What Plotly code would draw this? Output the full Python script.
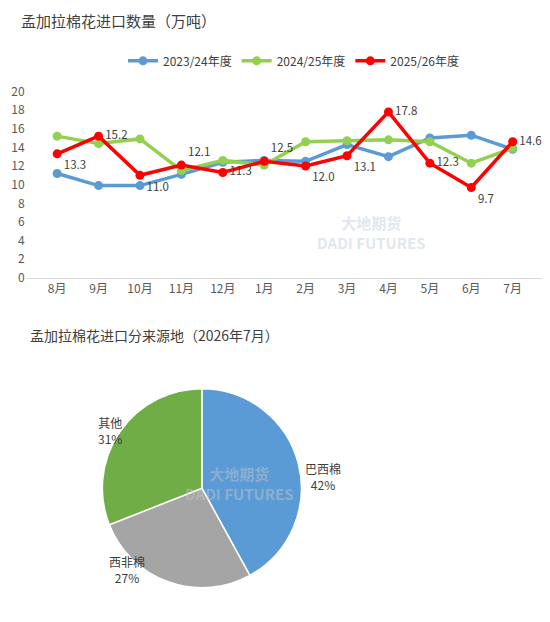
import plotly.graph_objects as go

months = ["8月", "9月", "10月", "11月", "12月", "1月", "2月", "3月", "4月", "5月", "6月", "7月"]
y2324 = [11.2, 9.9, 9.9, 11.1, 12.4, 12.6, 12.5, 14.3, 13.0, 15.0, 15.3, 13.8]
y2425 = [15.2, 14.4, 14.9, 11.5, 12.6, 12.1, 14.6, 14.7, 14.8, 14.6, 12.3, 13.9]
y2526 = [13.3, 15.2, 11.0, 12.1, 11.3, 12.5, 12.0, 13.1, 17.8, 12.3, 9.7, 14.6]
red_pos = ["bottom right", "middle right", "bottom right", "top right", "middle right", "top right",
           "bottom right", "bottom right", "middle right", "middle right", "bottom right", "middle right"]

pie_labels = ["巴西棉", "西非棉", "其他"]
pie_vals = [42, 27, 31]
pie_colors = ["#5B9BD5", "#A5A5A5", "#70AD47"]

F = "Microsoft YaHei, Noto Sans CJK SC, sans-serif"
fig = go.Figure()
for name, ys, col in [("2023/24年度", y2324, "#5B9BD5"), ("2024/25年度", y2425, "#92D050")]:
    fig.add_trace(go.Scatter(x=months, y=ys, name=name, mode="lines+markers",
                             line=dict(color=col, width=3.5), marker=dict(size=9, color=col)))
fig.add_trace(go.Scatter(x=months, y=y2526, name="2025/26年度", mode="lines+markers+text",
                         line=dict(color="#FF0000", width=3.5), marker=dict(size=9, color="#FF0000"),
                         text=[f"{v:.1f}" for v in y2526], textposition=red_pos, cliponaxis=False,
                         textfont=dict(size=11.5, color="#404040")))

fig.add_trace(go.Pie(labels=pie_labels, values=pie_vals, sort=False, direction="clockwise",
                     rotation=0, marker=dict(colors=pie_colors, line=dict(color="white", width=1.5)),
                     textinfo="none", showlegend=False, hoverinfo="label+percent",
                     domain=dict(x=[0.168, 0.537], y=[0.068, 0.388])))

fig.update_layout(
    width=550, height=622, margin=dict(l=0, r=0, t=0, b=0, autoexpand=False),
    paper_bgcolor="white", plot_bgcolor="white", font=dict(family=F, color="#595959", size=12),
    xaxis=dict(domain=[0.032, 0.975], showline=True, linecolor="#D9D9D9", ticks="", tickfont=dict(size=12)),
    yaxis=dict(domain=[0.566, 0.866], range=[0, 20], dtick=2, showgrid=False, zeroline=False,
               tickfont=dict(size=12)),
    legend=dict(orientation="h", x=0.52, xanchor="center", y=0.915, yanchor="middle",
                font=dict(size=12, color="#404040")),
    annotations=[
        dict(text="孟加拉棉花进口数量（万吨）", x=0.02, y=1.0, xref="paper", yref="paper",
             xanchor="left", yanchor="top", showarrow=False, font=dict(size=15, color="#404040")),
        dict(text="孟加拉棉花进口分来源地（2026年7月）", x=0.036, y=0.474, xref="paper", yref="paper",
             xanchor="left", showarrow=False, font=dict(size=14, color="#404040")),
        dict(text="巴西棉<br>42%", x=0.572, y=0.217, xref="paper", yref="paper", showarrow=False,
             font=dict(size=12, color="#404040")),
        dict(text="西非棉<br>27%", x=0.18, y=0.068, xref="paper", yref="paper", showarrow=False,
             font=dict(size=12, color="#404040")),
        dict(text="其他<br>31%", x=0.16, y=0.291, xref="paper", yref="paper", showarrow=False,
             font=dict(size=12, color="#404040")),
        dict(text="<b>大地期货</b><br><b>DADI FUTURES</b>", x=0.66, y=0.675, xref="paper", yref="paper",
             showarrow=False, font=dict(size=15, color="rgba(150,170,200,0.3)")),
        dict(text="<b>大地期货</b><br><b>DADI FUTURES</b>", x=0.42, y=0.2, xref="paper", yref="paper",
             showarrow=False, font=dict(size=15, color="rgba(200,200,200,0.45)")),
    ],
)
fig.write_html("out.html")
